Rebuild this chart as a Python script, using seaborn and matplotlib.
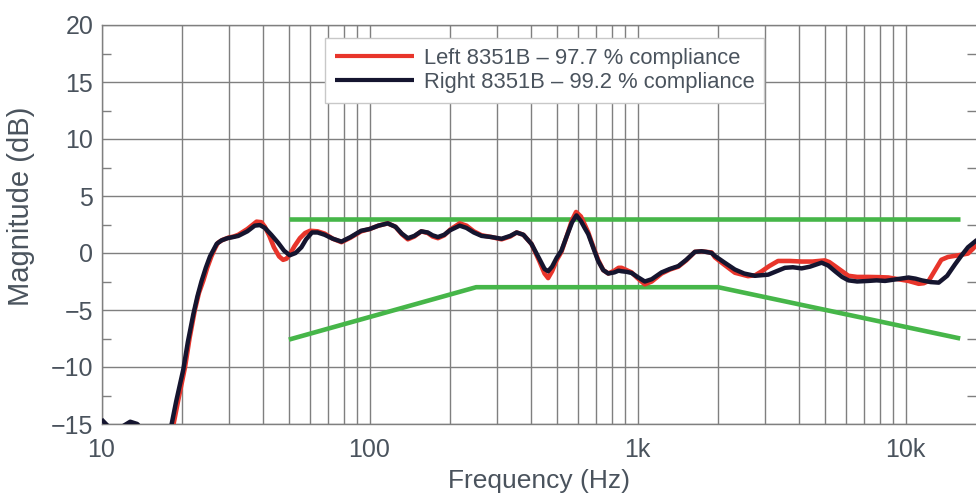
import numpy as np
import pandas as pd
import matplotlib
matplotlib.use("Agg")
import matplotlib.pyplot as plt
from matplotlib.ticker import FixedLocator, FixedFormatter, MultipleLocator
import seaborn as sns

# ---------------- data ----------------
freq_right = [10, 11, 12.0, 12.8, 13.6, 14.5, 16, 17.4, 18.2, 19, 20.2, 21, 22, 22.8, 23.6,
              24.5, 25.4, 26.2, 26.9, 28, 29.5, 31, 32.4, 35, 37.3, 39, 40.7, 43, 45.6, 48,
              50.4, 53, 55.7, 58, 61, 64, 68, 73, 78.6, 85, 93, 100, 108, 117, 125, 132,
              139, 147, 156, 165, 172, 180, 190, 200, 217, 230, 245, 262, 285, 311, 335,
              354, 375, 402, 430, 450, 464, 480, 500, 520, 545, 570, 592, 615, 635, 655,
              685, 713, 745, 778, 820, 850, 872, 910, 950, 1000, 1065, 1130, 1230, 1320,
              1420, 1520, 1637, 1733, 1800, 1890, 1945, 2100, 2309, 2500, 2741, 2900, 3074,
              3300, 3548, 3800, 4096, 4400, 4864, 5150, 5457, 5800, 6124, 6600, 7266, 7800,
              8391, 9300, 10260, 10900, 11500, 12400, 13300, 14300, 15300, 16200, 17100,
              18600]
mag_right = [-14.6, -15.6, -15.2, -14.8, -15.0, -15.8, -17.0, -16.2, -15.2, -13.0, -10.2,
             -7.8, -5.4, -3.8, -2.5, -1.3, -0.3, 0.3, 0.8, 1.1, 1.3, 1.4, 1.5, 1.9, 2.4,
             2.45, 2.2, 1.6, 0.9, 0.2, -0.2, 0.0, 0.5, 1.2, 1.8, 1.8, 1.6, 1.25, 1.0, 1.4,
             1.95, 2.1, 2.4, 2.6, 2.3, 1.7, 1.3, 1.5, 1.9, 1.8, 1.55, 1.4, 1.6, 2.0, 2.4,
             2.2, 1.8, 1.5, 1.4, 1.25, 1.5, 1.8, 1.6, 0.8, -0.5, -1.4, -1.6, -1.2, -0.4,
             0.2, 1.5, 2.7, 3.3, 2.8, 2.2, 1.65, 0.4, -0.7, -1.5, -1.8, -1.7, -1.55, -1.6,
             -1.65, -1.75, -2.1, -2.5, -2.3, -1.7, -1.4, -1.15, -0.6, 0.1, 0.15, 0.1, 0.0,
             -0.26, -0.8, -1.45, -1.8, -2.0, -1.95, -1.9, -1.6, -1.3, -1.25, -1.35, -1.2,
             -0.85, -1.1, -1.6, -2.1, -2.4, -2.5, -2.45, -2.4, -2.45, -2.3, -2.15, -2.25,
             -2.4, -2.55, -2.6, -2.0, -1.0, -0.2, 0.5, 1.2]

freq_left = [18.5, 19.3, 20.5, 21.3, 22.3, 23.1, 24, 24.8, 25.7, 26.5, 27.2, 28.3, 29.8,
             31.2, 32.4, 35, 37.9, 39.5, 40.7, 42.3, 44, 46, 47.6, 49, 50.5, 52.5, 55,
             57.5, 60, 64, 68, 73, 78.6, 85, 93, 100, 108, 117, 125, 132, 139, 147, 156,
             165, 172, 180, 190, 200, 217, 230, 245, 262, 285, 311, 335, 354, 375, 402,
             430, 450, 464, 480, 500, 520, 545, 570, 590, 615, 635, 655, 685, 713, 745,
             778, 820, 850, 872, 910, 950, 1000, 1065, 1130, 1230, 1320, 1420, 1520, 1637,
             1733, 1800, 1890, 1945, 2100, 2309, 2585, 2750, 2909, 3100, 3346, 3700, 4096,
             4500, 5000, 5200, 5457, 5800, 6124, 6600, 7266, 8000, 8630, 9400, 10260,
             11200, 11700, 12200, 12900, 13600, 14400, 15300, 16200, 17100, 17900, 18600]
mag_left = [-15.2, -13.0, -10.0, -7.5, -5.0, -3.5, -2.4, -1.3, -0.3, 0.4, 0.9, 1.15, 1.35,
            1.45, 1.6, 2.1, 2.75, 2.7, 2.3, 1.5, 0.5, -0.3, -0.6, -0.5, -0.1, 0.6, 1.3,
            1.75, 1.95, 1.9, 1.7, 1.25, 0.95, 1.35, 1.9, 2.1, 2.4, 2.6, 2.3, 1.65, 1.2,
            1.45, 1.9, 1.75, 1.45, 1.3, 1.55, 2.05, 2.6, 2.4, 1.9, 1.55, 1.4, 1.2, 1.45,
            1.8, 1.6, 0.8, -0.7, -1.8, -2.2, -1.6, -0.6, 0.1, 1.5, 2.9, 3.6, 3.2, 2.5,
            1.8, 0.5, -0.6, -1.5, -1.8, -1.55, -1.3, -1.3, -1.5, -1.7, -2.2, -2.75, -2.5,
            -1.8, -1.45, -1.2, -0.65, 0.1, 0.15, 0.1, 0.05, -0.38, -1.0, -1.73, -2.03,
            -1.95, -1.6, -1.15, -0.7, -0.7, -0.75, -0.75, -0.65, -0.8, -1.15, -1.6, -2.0,
            -2.1, -2.1, -2.12, -2.15, -2.3, -2.45, -2.7, -2.65, -2.45, -1.5, -0.6, -0.35,
            -0.25, -0.15, -0.05, 0.4, 0.9]

upper_freq = [50, 16000]
upper_mag = [3, 3]
lower_freq = [50, 250, 2000, 16000]
lower_mag = [-7.6, -3, -3, -7.5]

label_left = "Left 8351B \u2013 97.7 % compliance"
label_right = "Right 8351B \u2013 99.2 % compliance"

x_tick_values = [10, 100, 1000, 10000]
x_tick_labels = ["10", "100", "1k", "10k"]
x_minor_values = [m * d for d in (10, 100, 1000) for m in range(2, 10)]

# ---------------- style ----------------
sns.set_theme(style="white")
plt.rcParams["font.family"] = ["Liberation Sans", "DejaVu Sans"]
plt.rcParams["lines.solid_joinstyle"] = "round"
plt.rcParams["lines.solid_capstyle"] = "butt"
text_color = "#4a535d"
grid_color = "#7f7f7f"

fig = plt.figure(figsize=(9.76, 4.93), dpi=100)
ax = fig.add_axes([101.5 / 976, 1 - 424 / 493, 1 - 101.5 / 976, (424 - 25) / 493])

df_left = pd.DataFrame({"f": freq_left, "dB": mag_left})
df_right = pd.DataFrame({"f": freq_right, "dB": mag_right})
df_up = pd.DataFrame({"f": upper_freq, "dB": upper_mag})
df_low = pd.DataFrame({"f": lower_freq, "dB": lower_mag})

sns.lineplot(data=df_up, x="f", y="dB", ax=ax, color="#46b649", lw=3.3,
             sort=False, estimator=None, zorder=3)
sns.lineplot(data=df_low, x="f", y="dB", ax=ax, color="#46b649", lw=3.3,
             sort=False, estimator=None, zorder=3)
sns.lineplot(data=df_left, x="f", y="dB", ax=ax, color="#e8352b", lw=3.3,
             sort=False, estimator=None, label=label_left, zorder=4)
sns.lineplot(data=df_right, x="f", y="dB", ax=ax, color="#15152f", lw=3.2,
             sort=False, estimator=None, label=label_right, zorder=5)

ax.set_xscale("log")
ax.set_xlim(10, 10 ** (1 + (976 - 101.5) / 268))
ax.set_ylim(-15, 20)

ax.xaxis.set_major_locator(FixedLocator(x_tick_values))
ax.xaxis.set_major_formatter(FixedFormatter(x_tick_labels))
ax.xaxis.set_minor_locator(FixedLocator(x_minor_values))
ax.xaxis.set_minor_formatter(FixedFormatter([""] * len(x_minor_values)))
ax.yaxis.set_major_locator(MultipleLocator(5))
ax.yaxis.set_minor_locator(MultipleLocator(2.5))

ax.grid(True, which="major", axis="both", color=grid_color, lw=1.0)
ax.grid(True, which="minor", axis="x", color=grid_color, lw=1.0)
ax.set_axisbelow(True)

for side in ("left", "top", "bottom"):
    ax.spines[side].set_color(grid_color)
    ax.spines[side].set_linewidth(1.0)
ax.spines["right"].set_visible(False)

ax.tick_params(axis="x", which="both", length=0, pad=10, labelsize=18,
               labelcolor=text_color)
ax.tick_params(axis="y", which="major", length=0, pad=6, labelsize=18,
               labelcolor=text_color)
ax.tick_params(axis="y", which="minor", direction="in", length=6.5, width=1.0,
               color=grid_color, left=True, right=True)

ax.set_xlabel("Frequency (Hz)", fontsize=19, color=text_color, labelpad=5)
ax.set_ylabel("Magnitude (dB)", fontsize=21, color=text_color)
ax.yaxis.set_label_coords(-0.076, 0.546)

leg = ax.legend(loc="upper left", bbox_to_anchor=((325 - 101.5) / 874.5, (424 - 38) / 399),
                borderaxespad=0, frameon=True, fancybox=False, fontsize=15.8,
                handlelength=3.6, handletextpad=0.45, labelspacing=0.15,
                borderpad=0.45, framealpha=1)
leg.get_frame().set_edgecolor("#c8c8c8")
leg.get_frame().set_linewidth(1.0)
for t in leg.get_texts():
    t.set_color(text_color)
for h in leg.get_lines():
    h.set_linewidth(3.0)

fig.savefig("out.png", dpi=100)
